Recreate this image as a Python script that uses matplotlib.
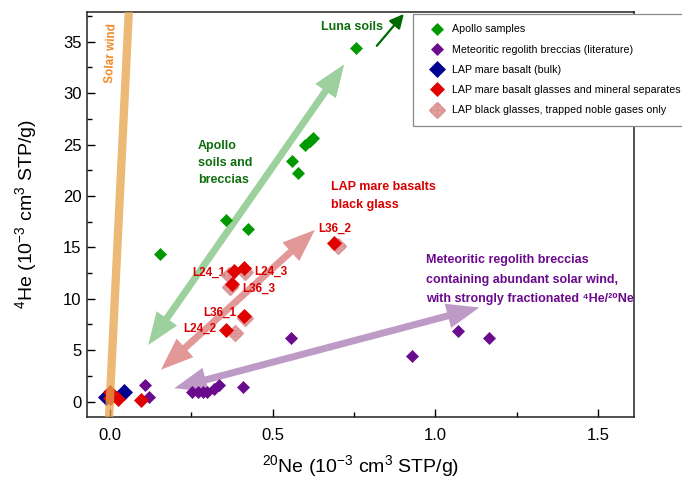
import matplotlib
matplotlib.use("Agg")
import matplotlib.pyplot as plt
from matplotlib.patches import FancyArrowPatch
from matplotlib.ticker import MultipleLocator
import numpy as np

plt.rcParams['font.family'] = ['Liberation Sans', 'DejaVu Sans']
plt.rcParams['mathtext.fontset'] = 'custom'
plt.rcParams['mathtext.rm'] = 'Liberation Sans'
plt.rcParams['mathtext.it'] = 'Liberation Sans:italic'
plt.rcParams['mathtext.bf'] = 'Liberation Sans:bold'

# ---------------- data ----------------
apollo_ne = [0.155, 0.357, 0.425, 0.559, 0.577, 0.600, 0.615, 0.625, 0.756]
apollo_he = [14.4, 17.7, 16.8, 23.4, 22.2, 25.0, 25.3, 25.6, 34.4]

meteor_ne = [0.109, 0.119, 0.251, 0.270, 0.285, 0.300, 0.320, 0.336, 0.408, 0.558, 0.927, 1.070, 1.166]
meteor_he = [1.63, 0.49, 0.97, 0.97, 0.97, 0.97, 1.2, 1.6, 1.46, 6.17, 4.45, 6.88, 6.23]

bulk_ne = [-0.012, 0.045]
bulk_he = [0.43, 0.97]

glass_ne = [0.382, 0.411, 0.374, 0.413, 0.357, 0.690, 0.0, 0.0, 0.024, 0.096]
glass_he = [12.66, 12.99, 11.46, 8.37, 6.98, 15.42, 0.9, 0.35, 0.26, 0.17]

black_ne = [0.367, 0.415, 0.369, 0.415, 0.386, 0.700]
black_he = [12.3, 12.56, 11.1, 8.1, 6.66, 15.1]
black_ne_err = [0.015, 0.015, 0.015, 0.015, 0.015, 0.02]
black_he_err = [0.3, 0.3, 0.3, 0.3, 0.3, 0.3]

sample_labels = ['L24_1', 'L24_3', 'L36_3', 'L36_1', 'L24_2', 'L36_2']
label_ne = [0.355, 0.444, 0.406, 0.390, 0.326, 0.690]
label_he = [12.55, 12.66, 10.94, 8.6, 7.05, 16.8]
label_ha = ['right', 'left', 'left', 'right', 'right', 'center']

# solar wind 4He/20Ne line
sw_ne = [-0.01, 0.06]
sw_he = [-6.5, 39.0]

# trend arrows (tail, head)
green_arrow = [(0.118, 5.5), (0.720, 32.8)]
red_arrow = [(0.157, 3.1), (0.630, 16.7)]
purple_arrow = [(0.198, 1.3), (1.135, 9.15)]
luna_arrow = [(0.820, 34.6), (0.903, 37.7)]

meteor_text = ['Meteoritic regolith breccias',
               'containing abundant solar wind,',
               'with strongly fractionated \u2074He/\u00b2\u2070Ne']
meteor_text_he = [13.75, 11.85, 9.95]

# ---------------- figure ----------------
fig = plt.figure(figsize=(6.82, 4.84), dpi=100)
ax = fig.add_axes([0.1276, 0.1384, 0.802, 0.837])

c_green = '#009a00'
c_purple = '#6a0a8c'
c_blue = '#000090'
c_red = '#e00000'
c_pink = '#d88a8a'

ax.plot(apollo_ne, apollo_he, 'D', color=c_green, ms=6.3, mec=c_green, mew=0.5,
        label='Apollo samples', zorder=3)
ax.plot(meteor_ne, meteor_he, 'D', color=c_purple, ms=6.0, mec=c_purple, mew=0.5,
        label='Meteoritic regolith breccias (literature)', zorder=3)
ax.plot(bulk_ne, bulk_he, 'D', color=c_blue, ms=8.5, mec=c_blue, mew=0.5,
        label='LAP mare basalt (bulk)', zorder=3)
ax.errorbar(black_ne, black_he, xerr=black_ne_err, yerr=black_he_err, fmt='D',
            color=c_pink, ms=8.0, mec=c_pink, alpha=0.8, ecolor='#e8a0a0',
            elinewidth=1.0, capsize=2.5, zorder=3,
            label='LAP black glasses, trapped noble gases only')
ax.plot(glass_ne, glass_he, 'D', color=c_red, ms=7.0, mec=c_red, mew=0.5,
        label='LAP mare basalt glasses and mineral separates', zorder=4)

# solar wind band
ax.plot(sw_ne, sw_he, '-', color='#e6a24a', alpha=0.75, lw=6.0,
        solid_capstyle='butt', zorder=5)


def double_arrow(p0, p1, color, alpha):
    mid = ((p0[0] + p1[0]) / 2, (p0[1] + p1[1]) / 2)
    style = "simple,head_length=0.65,head_width=0.5,tail_width=0.14"
    for end in (p0, p1):
        a = FancyArrowPatch(mid, end, arrowstyle=style, mutation_scale=36,
                            color=color, alpha=alpha, lw=0, zorder=2,
                            shrinkA=0, shrinkB=0)
        ax.add_patch(a)


double_arrow(green_arrow[0], green_arrow[1], '#4caa4c', 0.55)
double_arrow(red_arrow[0], red_arrow[1], '#cc4444', 0.55)
double_arrow(purple_arrow[0], purple_arrow[1], '#8a4a9a', 0.55)

ax.add_patch(FancyArrowPatch(luna_arrow[0], luna_arrow[1],
                             arrowstyle='-|>,head_length=0.7,head_width=0.35',
                             mutation_scale=12, color='#006a00', lw=1.6,
                             shrinkA=0, shrinkB=0, zorder=4, clip_on=False))

# text annotations
ax.text(0.004, 33.9, 'Solar wind', rotation=87.5, color='#f08a25', fontsize=8.5,
        fontweight='bold', ha='center', va='center')
ax.text(0.745, 36.4, 'Luna soils', color='#0e6e0e', fontsize=9,
        fontweight='bold', ha='center', va='center')
ax.text(0.27, 23.2, 'Apollo\nsoils and\nbreccias', color='#0e6e0e', fontsize=9,
        fontweight='bold', ha='left', va='center', linespacing=1.6)
ax.text(0.68, 20.0, 'LAP mare basalts\nblack glass', color='#d80000', fontsize=9,
        fontweight='bold', ha='left', va='center', linespacing=1.6)
for line, y in zip(meteor_text, meteor_text_he):
    ax.text(0.971, y, line, color=c_purple, fontsize=9, fontweight='bold',
            ha='left', va='center')
for lab, x, y, ha in zip(sample_labels, label_ne, label_he, label_ha):
    ax.text(x, y, lab, color='#d80000', fontsize=8.5, fontweight='bold',
            ha=ha, va='center')

# axes
ax.set_xlim(-0.07, 1.61)
ax.set_ylim(-1.5, 37.9)
ax.xaxis.set_major_locator(MultipleLocator(0.5))
ax.xaxis.set_minor_locator(MultipleLocator(0.25))
ax.yaxis.set_major_locator(MultipleLocator(5))
ax.yaxis.set_minor_locator(MultipleLocator(2.5))
ax.xaxis.set_major_formatter(plt.FuncFormatter(lambda v, p: f'{v:.1f}'))
ax.tick_params(which='both', direction='in', top=False, right=False,
               labelsize=12, width=1.0)
ax.tick_params(axis='x', which='major', length=6, pad=8)
ax.tick_params(axis='y', which='major', length=6, pad=4)
ax.tick_params(which='minor', length=3.5)
for s in ax.spines.values():
    s.set_linewidth(1.1)
    s.set_color('#222222')

ax.set_xlabel(r'$^{20}$Ne (10$^{-3}$ cm$^{3}$ STP/g)', fontsize=14, labelpad=7)
ax.set_ylabel(r'$^{4}$He (10$^{-3}$ cm$^{3}$ STP/g)', fontsize=14, labelpad=17)

handles, labels = ax.get_legend_handles_labels()
order = ['Apollo samples', 'Meteoritic regolith breccias (literature)',
         'LAP mare basalt (bulk)', 'LAP mare basalt glasses and mineral separates',
         'LAP black glasses, trapped noble gases only']
hd = dict(zip(labels, handles))
leg = fig.legend([hd[k] for k in order], order, loc='upper left',
                 bbox_to_anchor=(413 / 682, 1 - 14 / 484), fontsize=7.7,
                 frameon=True, fancybox=False, edgecolor='#888888',
                 framealpha=1, labelspacing=0.96, handlelength=2.5,
                 handletextpad=0.15, borderpad=0.97, borderaxespad=0)
leg.get_frame().set_linewidth(0.9)

fig.savefig('out.png', dpi=100)
